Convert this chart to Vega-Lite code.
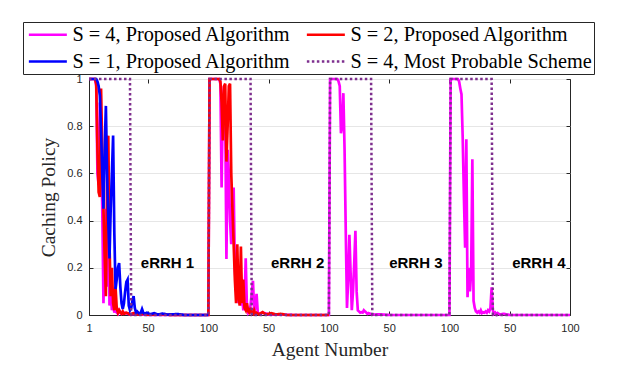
{
  "$schema": "https://vega.github.io/schema/vega-lite/v6.json",
  "width": 481,
  "height": 236,
  "autosize": {"type": "none"},
  "padding": {"left": 89, "top": 79, "right": 54, "bottom": 56},
  "background": "white",
  "datasets": {
    "lines": [
      {"s": "S = 4, Proposed Algorithm", "x": 1, "y": 1},
      {"s": "S = 4, Proposed Algorithm", "x": 6, "y": 1},
      {"s": "S = 4, Proposed Algorithm", "x": 7, "y": 0.97},
      {"s": "S = 4, Proposed Algorithm", "x": 8, "y": 0.6},
      {"s": "S = 4, Proposed Algorithm", "x": 9, "y": 0.55},
      {"s": "S = 4, Proposed Algorithm", "x": 10, "y": 0.9},
      {"s": "S = 4, Proposed Algorithm", "x": 11, "y": 0.75},
      {"s": "S = 4, Proposed Algorithm", "x": 12, "y": 0.45},
      {"s": "S = 4, Proposed Algorithm", "x": 13, "y": 0.05},
      {"s": "S = 4, Proposed Algorithm", "x": 14, "y": 0.3},
      {"s": "S = 4, Proposed Algorithm", "x": 15, "y": 0.45},
      {"s": "S = 4, Proposed Algorithm", "x": 16, "y": 0.12},
      {"s": "S = 4, Proposed Algorithm", "x": 17, "y": 0.6},
      {"s": "S = 4, Proposed Algorithm", "x": 18, "y": 0.04},
      {"s": "S = 4, Proposed Algorithm", "x": 19, "y": 0.1},
      {"s": "S = 4, Proposed Algorithm", "x": 20, "y": 0.02},
      {"s": "S = 4, Proposed Algorithm", "x": 21, "y": 0.05},
      {"s": "S = 4, Proposed Algorithm", "x": 22, "y": 0.01},
      {"s": "S = 4, Proposed Algorithm", "x": 23, "y": 0.03},
      {"s": "S = 4, Proposed Algorithm", "x": 24, "y": 0.01},
      {"s": "S = 4, Proposed Algorithm", "x": 25, "y": 0.005},
      {"s": "S = 4, Proposed Algorithm", "x": 26, "y": 0.02},
      {"s": "S = 4, Proposed Algorithm", "x": 28, "y": 0.005},
      {"s": "S = 4, Proposed Algorithm", "x": 30, "y": 0.01},
      {"s": "S = 4, Proposed Algorithm", "x": 35, "y": 0.003},
      {"s": "S = 4, Proposed Algorithm", "x": 40, "y": 0.005},
      {"s": "S = 4, Proposed Algorithm", "x": 50, "y": 0},
      {"s": "S = 4, Proposed Algorithm", "x": 100, "y": 0},
      {"s": "S = 4, Proposed Algorithm", "x": 101, "y": 1},
      {"s": "S = 4, Proposed Algorithm", "x": 109, "y": 1},
      {"s": "S = 4, Proposed Algorithm", "x": 110, "y": 0.98},
      {"s": "S = 4, Proposed Algorithm", "x": 111, "y": 0.54},
      {"s": "S = 4, Proposed Algorithm", "x": 112, "y": 0.9},
      {"s": "S = 4, Proposed Algorithm", "x": 113, "y": 0.97},
      {"s": "S = 4, Proposed Algorithm", "x": 114, "y": 0.85},
      {"s": "S = 4, Proposed Algorithm", "x": 115, "y": 0.237},
      {"s": "S = 4, Proposed Algorithm", "x": 116, "y": 0.7},
      {"s": "S = 4, Proposed Algorithm", "x": 117, "y": 0.6},
      {"s": "S = 4, Proposed Algorithm", "x": 118, "y": 0.4},
      {"s": "S = 4, Proposed Algorithm", "x": 119, "y": 0.3},
      {"s": "S = 4, Proposed Algorithm", "x": 120, "y": 0.45},
      {"s": "S = 4, Proposed Algorithm", "x": 121, "y": 0.54},
      {"s": "S = 4, Proposed Algorithm", "x": 122, "y": 0.2},
      {"s": "S = 4, Proposed Algorithm", "x": 123, "y": 0.1},
      {"s": "S = 4, Proposed Algorithm", "x": 124, "y": 0.15},
      {"s": "S = 4, Proposed Algorithm", "x": 125, "y": 0.05},
      {"s": "S = 4, Proposed Algorithm", "x": 126, "y": 0.1},
      {"s": "S = 4, Proposed Algorithm", "x": 127, "y": 0.04},
      {"s": "S = 4, Proposed Algorithm", "x": 128, "y": 0.08},
      {"s": "S = 4, Proposed Algorithm", "x": 129, "y": 0.02},
      {"s": "S = 4, Proposed Algorithm", "x": 130, "y": 0.05},
      {"s": "S = 4, Proposed Algorithm", "x": 131, "y": 0.24},
      {"s": "S = 4, Proposed Algorithm", "x": 132, "y": 0.03},
      {"s": "S = 4, Proposed Algorithm", "x": 133, "y": 0.01},
      {"s": "S = 4, Proposed Algorithm", "x": 134, "y": 0.02},
      {"s": "S = 4, Proposed Algorithm", "x": 135, "y": 0.04},
      {"s": "S = 4, Proposed Algorithm", "x": 137, "y": 0.145},
      {"s": "S = 4, Proposed Algorithm", "x": 138, "y": 0.02},
      {"s": "S = 4, Proposed Algorithm", "x": 139, "y": 0.03},
      {"s": "S = 4, Proposed Algorithm", "x": 140, "y": 0.09},
      {"s": "S = 4, Proposed Algorithm", "x": 141, "y": 0.01},
      {"s": "S = 4, Proposed Algorithm", "x": 142, "y": 0.005},
      {"s": "S = 4, Proposed Algorithm", "x": 145, "y": 0.01},
      {"s": "S = 4, Proposed Algorithm", "x": 150, "y": 0.003},
      {"s": "S = 4, Proposed Algorithm", "x": 160, "y": 0.002},
      {"s": "S = 4, Proposed Algorithm", "x": 170, "y": 0},
      {"s": "S = 4, Proposed Algorithm", "x": 200, "y": 0},
      {"s": "S = 4, Proposed Algorithm", "x": 201, "y": 1},
      {"s": "S = 4, Proposed Algorithm", "x": 207, "y": 1},
      {"s": "S = 4, Proposed Algorithm", "x": 208, "y": 0.99},
      {"s": "S = 4, Proposed Algorithm", "x": 209, "y": 0.97},
      {"s": "S = 4, Proposed Algorithm", "x": 210, "y": 0.77},
      {"s": "S = 4, Proposed Algorithm", "x": 211, "y": 0.8},
      {"s": "S = 4, Proposed Algorithm", "x": 212, "y": 0.94},
      {"s": "S = 4, Proposed Algorithm", "x": 213, "y": 0.7},
      {"s": "S = 4, Proposed Algorithm", "x": 214, "y": 0.35},
      {"s": "S = 4, Proposed Algorithm", "x": 215, "y": 0.03},
      {"s": "S = 4, Proposed Algorithm", "x": 216, "y": 0.15},
      {"s": "S = 4, Proposed Algorithm", "x": 217, "y": 0.34},
      {"s": "S = 4, Proposed Algorithm", "x": 218, "y": 0.18},
      {"s": "S = 4, Proposed Algorithm", "x": 219, "y": 0.02},
      {"s": "S = 4, Proposed Algorithm", "x": 220, "y": 0.1},
      {"s": "S = 4, Proposed Algorithm", "x": 221, "y": 0.22},
      {"s": "S = 4, Proposed Algorithm", "x": 222, "y": 0.357},
      {"s": "S = 4, Proposed Algorithm", "x": 223, "y": 0.1},
      {"s": "S = 4, Proposed Algorithm", "x": 224, "y": 0.02},
      {"s": "S = 4, Proposed Algorithm", "x": 225, "y": 0.015},
      {"s": "S = 4, Proposed Algorithm", "x": 226, "y": 0.01},
      {"s": "S = 4, Proposed Algorithm", "x": 227, "y": 0.012},
      {"s": "S = 4, Proposed Algorithm", "x": 228, "y": 0.01},
      {"s": "S = 4, Proposed Algorithm", "x": 229, "y": 0.02},
      {"s": "S = 4, Proposed Algorithm", "x": 230, "y": 0.015},
      {"s": "S = 4, Proposed Algorithm", "x": 231, "y": 0.01},
      {"s": "S = 4, Proposed Algorithm", "x": 232, "y": 0.005},
      {"s": "S = 4, Proposed Algorithm", "x": 233, "y": 0.008},
      {"s": "S = 4, Proposed Algorithm", "x": 235, "y": 0.004},
      {"s": "S = 4, Proposed Algorithm", "x": 238, "y": 0.002},
      {"s": "S = 4, Proposed Algorithm", "x": 242, "y": 0.003},
      {"s": "S = 4, Proposed Algorithm", "x": 250, "y": 0},
      {"s": "S = 4, Proposed Algorithm", "x": 300, "y": 0},
      {"s": "S = 4, Proposed Algorithm", "x": 301, "y": 1},
      {"s": "S = 4, Proposed Algorithm", "x": 307, "y": 1},
      {"s": "S = 4, Proposed Algorithm", "x": 308, "y": 0.99},
      {"s": "S = 4, Proposed Algorithm", "x": 309, "y": 0.96},
      {"s": "S = 4, Proposed Algorithm", "x": 310, "y": 0.935},
      {"s": "S = 4, Proposed Algorithm", "x": 311, "y": 0.75},
      {"s": "S = 4, Proposed Algorithm", "x": 312, "y": 0.5},
      {"s": "S = 4, Proposed Algorithm", "x": 313, "y": 0.285},
      {"s": "S = 4, Proposed Algorithm", "x": 314, "y": 0.745},
      {"s": "S = 4, Proposed Algorithm", "x": 315, "y": 0.075},
      {"s": "S = 4, Proposed Algorithm", "x": 316, "y": 0.2},
      {"s": "S = 4, Proposed Algorithm", "x": 317, "y": 0.1},
      {"s": "S = 4, Proposed Algorithm", "x": 318, "y": 0.18},
      {"s": "S = 4, Proposed Algorithm", "x": 319, "y": 0.66},
      {"s": "S = 4, Proposed Algorithm", "x": 320, "y": 0.06},
      {"s": "S = 4, Proposed Algorithm", "x": 321, "y": 0.03},
      {"s": "S = 4, Proposed Algorithm", "x": 322, "y": 0.015},
      {"s": "S = 4, Proposed Algorithm", "x": 323, "y": 0.01},
      {"s": "S = 4, Proposed Algorithm", "x": 324, "y": 0.015},
      {"s": "S = 4, Proposed Algorithm", "x": 325, "y": 0.01},
      {"s": "S = 4, Proposed Algorithm", "x": 326, "y": 0.02},
      {"s": "S = 4, Proposed Algorithm", "x": 327, "y": 0.008},
      {"s": "S = 4, Proposed Algorithm", "x": 328, "y": 0.012},
      {"s": "S = 4, Proposed Algorithm", "x": 329, "y": 0.01},
      {"s": "S = 4, Proposed Algorithm", "x": 330, "y": 0.015},
      {"s": "S = 4, Proposed Algorithm", "x": 331, "y": 0.01},
      {"s": "S = 4, Proposed Algorithm", "x": 332, "y": 0.02},
      {"s": "S = 4, Proposed Algorithm", "x": 333, "y": 0.015},
      {"s": "S = 4, Proposed Algorithm", "x": 334, "y": 0.03},
      {"s": "S = 4, Proposed Algorithm", "x": 335, "y": 0.117},
      {"s": "S = 4, Proposed Algorithm", "x": 336, "y": 0.02},
      {"s": "S = 4, Proposed Algorithm", "x": 337, "y": 0.005},
      {"s": "S = 4, Proposed Algorithm", "x": 338, "y": 0.01},
      {"s": "S = 4, Proposed Algorithm", "x": 339, "y": 0.002},
      {"s": "S = 4, Proposed Algorithm", "x": 340, "y": 0.008},
      {"s": "S = 4, Proposed Algorithm", "x": 342, "y": 0.002},
      {"s": "S = 4, Proposed Algorithm", "x": 345, "y": 0.005},
      {"s": "S = 4, Proposed Algorithm", "x": 350, "y": 0},
      {"s": "S = 4, Proposed Algorithm", "x": 400, "y": 0},

      {"s": "S = 2, Proposed Algorithm", "x": 1, "y": 1},
      {"s": "S = 2, Proposed Algorithm", "x": 6, "y": 1},
      {"s": "S = 2, Proposed Algorithm", "x": 7, "y": 0.98},
      {"s": "S = 2, Proposed Algorithm", "x": 8, "y": 0.7},
      {"s": "S = 2, Proposed Algorithm", "x": 9, "y": 0.52},
      {"s": "S = 2, Proposed Algorithm", "x": 10, "y": 0.5},
      {"s": "S = 2, Proposed Algorithm", "x": 11, "y": 0.96},
      {"s": "S = 2, Proposed Algorithm", "x": 12, "y": 0.7},
      {"s": "S = 2, Proposed Algorithm", "x": 13, "y": 0.45},
      {"s": "S = 2, Proposed Algorithm", "x": 14, "y": 0.25},
      {"s": "S = 2, Proposed Algorithm", "x": 15, "y": 0.08},
      {"s": "S = 2, Proposed Algorithm", "x": 16, "y": 0.55},
      {"s": "S = 2, Proposed Algorithm", "x": 17, "y": 0.76},
      {"s": "S = 2, Proposed Algorithm", "x": 18, "y": 0.3},
      {"s": "S = 2, Proposed Algorithm", "x": 19, "y": 0.08},
      {"s": "S = 2, Proposed Algorithm", "x": 20, "y": 0.2},
      {"s": "S = 2, Proposed Algorithm", "x": 21, "y": 0.05},
      {"s": "S = 2, Proposed Algorithm", "x": 22, "y": 0.02},
      {"s": "S = 2, Proposed Algorithm", "x": 23, "y": 0.12},
      {"s": "S = 2, Proposed Algorithm", "x": 24, "y": 0.03},
      {"s": "S = 2, Proposed Algorithm", "x": 25, "y": 0.01},
      {"s": "S = 2, Proposed Algorithm", "x": 26, "y": 0.02},
      {"s": "S = 2, Proposed Algorithm", "x": 27, "y": 0.01},
      {"s": "S = 2, Proposed Algorithm", "x": 28, "y": 0.005},
      {"s": "S = 2, Proposed Algorithm", "x": 29, "y": 0.015},
      {"s": "S = 2, Proposed Algorithm", "x": 30, "y": 0.005},
      {"s": "S = 2, Proposed Algorithm", "x": 32, "y": 0.01},
      {"s": "S = 2, Proposed Algorithm", "x": 35, "y": 0.003},
      {"s": "S = 2, Proposed Algorithm", "x": 38, "y": 0.008},
      {"s": "S = 2, Proposed Algorithm", "x": 42, "y": 0.002},
      {"s": "S = 2, Proposed Algorithm", "x": 46, "y": 0.005},
      {"s": "S = 2, Proposed Algorithm", "x": 50, "y": 0.001},
      {"s": "S = 2, Proposed Algorithm", "x": 60, "y": 0.003},
      {"s": "S = 2, Proposed Algorithm", "x": 70, "y": 0},
      {"s": "S = 2, Proposed Algorithm", "x": 100, "y": 0},
      {"s": "S = 2, Proposed Algorithm", "x": 101, "y": 1},
      {"s": "S = 2, Proposed Algorithm", "x": 109, "y": 1},
      {"s": "S = 2, Proposed Algorithm", "x": 110, "y": 0.99},
      {"s": "S = 2, Proposed Algorithm", "x": 111, "y": 0.9},
      {"s": "S = 2, Proposed Algorithm", "x": 112, "y": 0.74},
      {"s": "S = 2, Proposed Algorithm", "x": 113, "y": 0.97},
      {"s": "S = 2, Proposed Algorithm", "x": 114, "y": 0.98},
      {"s": "S = 2, Proposed Algorithm", "x": 115, "y": 0.65},
      {"s": "S = 2, Proposed Algorithm", "x": 116, "y": 0.8},
      {"s": "S = 2, Proposed Algorithm", "x": 117, "y": 0.97},
      {"s": "S = 2, Proposed Algorithm", "x": 118, "y": 0.98},
      {"s": "S = 2, Proposed Algorithm", "x": 119, "y": 0.6},
      {"s": "S = 2, Proposed Algorithm", "x": 120, "y": 0.45},
      {"s": "S = 2, Proposed Algorithm", "x": 121, "y": 0.3},
      {"s": "S = 2, Proposed Algorithm", "x": 122, "y": 0.15},
      {"s": "S = 2, Proposed Algorithm", "x": 123, "y": 0.05},
      {"s": "S = 2, Proposed Algorithm", "x": 124, "y": 0.3},
      {"s": "S = 2, Proposed Algorithm", "x": 125, "y": 0.08},
      {"s": "S = 2, Proposed Algorithm", "x": 126, "y": 0.04},
      {"s": "S = 2, Proposed Algorithm", "x": 127, "y": 0.29},
      {"s": "S = 2, Proposed Algorithm", "x": 128, "y": 0.05},
      {"s": "S = 2, Proposed Algorithm", "x": 129, "y": 0.15},
      {"s": "S = 2, Proposed Algorithm", "x": 130, "y": 0.03},
      {"s": "S = 2, Proposed Algorithm", "x": 131, "y": 0.02},
      {"s": "S = 2, Proposed Algorithm", "x": 132, "y": 0.05},
      {"s": "S = 2, Proposed Algorithm", "x": 133, "y": 0.015},
      {"s": "S = 2, Proposed Algorithm", "x": 134, "y": 0.01},
      {"s": "S = 2, Proposed Algorithm", "x": 135, "y": 0.03},
      {"s": "S = 2, Proposed Algorithm", "x": 136, "y": 0.01},
      {"s": "S = 2, Proposed Algorithm", "x": 137, "y": 0.005},
      {"s": "S = 2, Proposed Algorithm", "x": 138, "y": 0.02},
      {"s": "S = 2, Proposed Algorithm", "x": 139, "y": 0.005},
      {"s": "S = 2, Proposed Algorithm", "x": 140, "y": 0.01},
      {"s": "S = 2, Proposed Algorithm", "x": 142, "y": 0.003},
      {"s": "S = 2, Proposed Algorithm", "x": 145, "y": 0.012},
      {"s": "S = 2, Proposed Algorithm", "x": 148, "y": 0.002},
      {"s": "S = 2, Proposed Algorithm", "x": 152, "y": 0.008},
      {"s": "S = 2, Proposed Algorithm", "x": 156, "y": 0.002},
      {"s": "S = 2, Proposed Algorithm", "x": 160, "y": 0.005},
      {"s": "S = 2, Proposed Algorithm", "x": 165, "y": 0},
      {"s": "S = 2, Proposed Algorithm", "x": 200, "y": 0},

      {"s": "S = 1, Proposed Algorithm", "x": 1, "y": 1},
      {"s": "S = 1, Proposed Algorithm", "x": 7, "y": 1},
      {"s": "S = 1, Proposed Algorithm", "x": 8, "y": 0.99},
      {"s": "S = 1, Proposed Algorithm", "x": 9, "y": 0.97},
      {"s": "S = 1, Proposed Algorithm", "x": 10, "y": 0.93},
      {"s": "S = 1, Proposed Algorithm", "x": 11, "y": 0.78},
      {"s": "S = 1, Proposed Algorithm", "x": 12, "y": 0.6},
      {"s": "S = 1, Proposed Algorithm", "x": 13, "y": 0.45},
      {"s": "S = 1, Proposed Algorithm", "x": 14, "y": 0.7},
      {"s": "S = 1, Proposed Algorithm", "x": 15, "y": 0.886},
      {"s": "S = 1, Proposed Algorithm", "x": 16, "y": 0.6},
      {"s": "S = 1, Proposed Algorithm", "x": 17, "y": 0.4},
      {"s": "S = 1, Proposed Algorithm", "x": 18, "y": 0.24},
      {"s": "S = 1, Proposed Algorithm", "x": 19, "y": 0.45},
      {"s": "S = 1, Proposed Algorithm", "x": 20, "y": 0.6},
      {"s": "S = 1, Proposed Algorithm", "x": 21, "y": 0.76},
      {"s": "S = 1, Proposed Algorithm", "x": 22, "y": 0.35},
      {"s": "S = 1, Proposed Algorithm", "x": 23, "y": 0.11},
      {"s": "S = 1, Proposed Algorithm", "x": 24, "y": 0.15},
      {"s": "S = 1, Proposed Algorithm", "x": 25, "y": 0.2},
      {"s": "S = 1, Proposed Algorithm", "x": 26, "y": 0.22},
      {"s": "S = 1, Proposed Algorithm", "x": 27, "y": 0.12},
      {"s": "S = 1, Proposed Algorithm", "x": 28, "y": 0.05},
      {"s": "S = 1, Proposed Algorithm", "x": 29, "y": 0.025},
      {"s": "S = 1, Proposed Algorithm", "x": 30, "y": 0.05},
      {"s": "S = 1, Proposed Algorithm", "x": 31, "y": 0.1},
      {"s": "S = 1, Proposed Algorithm", "x": 32, "y": 0.14},
      {"s": "S = 1, Proposed Algorithm", "x": 33, "y": 0.15},
      {"s": "S = 1, Proposed Algorithm", "x": 34, "y": 0.04},
      {"s": "S = 1, Proposed Algorithm", "x": 35, "y": 0.02},
      {"s": "S = 1, Proposed Algorithm", "x": 36, "y": 0.03},
      {"s": "S = 1, Proposed Algorithm", "x": 37, "y": 0.06},
      {"s": "S = 1, Proposed Algorithm", "x": 38, "y": 0.08},
      {"s": "S = 1, Proposed Algorithm", "x": 39, "y": 0.03},
      {"s": "S = 1, Proposed Algorithm", "x": 40, "y": 0.01},
      {"s": "S = 1, Proposed Algorithm", "x": 41, "y": 0.015},
      {"s": "S = 1, Proposed Algorithm", "x": 42, "y": 0.01},
      {"s": "S = 1, Proposed Algorithm", "x": 43, "y": 0.005},
      {"s": "S = 1, Proposed Algorithm", "x": 44, "y": 0.01},
      {"s": "S = 1, Proposed Algorithm", "x": 45, "y": 0.025},
      {"s": "S = 1, Proposed Algorithm", "x": 46, "y": 0.01},
      {"s": "S = 1, Proposed Algorithm", "x": 47, "y": 0.005},
      {"s": "S = 1, Proposed Algorithm", "x": 49, "y": 0.01},
      {"s": "S = 1, Proposed Algorithm", "x": 52, "y": 0.003},
      {"s": "S = 1, Proposed Algorithm", "x": 55, "y": 0.008},
      {"s": "S = 1, Proposed Algorithm", "x": 58, "y": 0.002},
      {"s": "S = 1, Proposed Algorithm", "x": 62, "y": 0.006},
      {"s": "S = 1, Proposed Algorithm", "x": 66, "y": 0.002},
      {"s": "S = 1, Proposed Algorithm", "x": 75, "y": 0.004},
      {"s": "S = 1, Proposed Algorithm", "x": 80, "y": 0},
      {"s": "S = 1, Proposed Algorithm", "x": 100, "y": 0},

      {"s": "S = 4, Most Probable Scheme", "x": 1, "y": 1},
      {"s": "S = 4, Most Probable Scheme", "x": 35, "y": 1},
      {"s": "S = 4, Most Probable Scheme", "x": 36, "y": 0},
      {"s": "S = 4, Most Probable Scheme", "x": 100, "y": 0},
      {"s": "S = 4, Most Probable Scheme", "x": 101, "y": 1},
      {"s": "S = 4, Most Probable Scheme", "x": 135, "y": 1},
      {"s": "S = 4, Most Probable Scheme", "x": 136, "y": 0},
      {"s": "S = 4, Most Probable Scheme", "x": 200, "y": 0},
      {"s": "S = 4, Most Probable Scheme", "x": 201, "y": 1},
      {"s": "S = 4, Most Probable Scheme", "x": 235, "y": 1},
      {"s": "S = 4, Most Probable Scheme", "x": 236, "y": 0},
      {"s": "S = 4, Most Probable Scheme", "x": 300, "y": 0},
      {"s": "S = 4, Most Probable Scheme", "x": 301, "y": 1},
      {"s": "S = 4, Most Probable Scheme", "x": 335, "y": 1},
      {"s": "S = 4, Most Probable Scheme", "x": 336, "y": 0},
      {"s": "S = 4, Most Probable Scheme", "x": 400, "y": 0}
    ],
    "labels": [
      {"x": 44, "y": 0.22, "t": "eRRH 1"},
      {"x": 152, "y": 0.22, "t": "eRRH 2"},
      {"x": 250, "y": 0.22, "t": "eRRH 3"},
      {"x": 352, "y": 0.22, "t": "eRRH 4"}
    ]
  },
  "layer": [
    {
      "data": {"name": "lines"},
      "transform": [{"filter": "datum.s == 'S = 4, Proposed Algorithm'"}],
      "mark": {"type": "line", "strokeWidth": 2.7, "clip": false},
      "encoding": {
        "x": {"field": "x", "type": "quantitative",
          "scale": {"domain": [1, 400], "nice": false, "zero": false},
          "axis": {"title": "Agent Number", "values": [1, 50, 100, 150, 200, 250, 300, 350, 400],
            "labelExpr": "datum.value == 1 ? '1' : (datum.value % 100 == 0 ? '100' : '50')",
            "grid": false, "titleX": 240.5, "titleY": 34, "titleBaseline": "middle", "titleAlign": "center"}},
        "y": {"field": "y", "type": "quantitative",
          "scale": {"domain": [0, 1], "nice": false},
          "axis": {"title": "Caching Policy", "values": [0, 0.2, 0.4, 0.6, 0.8, 1], "format": "~g",
            "grid": true, "titleX": -41, "titleY": 118, "titleBaseline": "middle", "titleAlign": "center", "titleAngle": -90}},
        "color": {"field": "s", "type": "nominal",
          "scale": {"domain": ["S = 4, Proposed Algorithm", "S = 1, Proposed Algorithm", "S = 2, Proposed Algorithm", "S = 4, Most Probable Scheme"],
            "range": ["#FF00FF", "#0000FF", "#FF0000", "#7E2F8E"]}},
        "strokeDash": {"field": "s", "type": "nominal",
          "scale": {"domain": ["S = 4, Proposed Algorithm", "S = 1, Proposed Algorithm", "S = 2, Proposed Algorithm", "S = 4, Most Probable Scheme"],
            "range": [[1, 0], [1, 0], [1, 0], [2.5, 2.5]]}}
      }
    },
    {
      "data": {"name": "lines"},
      "transform": [{"filter": "datum.s == 'S = 2, Proposed Algorithm'"}],
      "mark": {"type": "line", "strokeWidth": 2.7, "clip": false},
      "encoding": {
        "x": {"field": "x", "type": "quantitative", "axis": null},
        "y": {"field": "y", "type": "quantitative", "axis": null},
        "color": {"field": "s", "type": "nominal"},
        "strokeDash": {"field": "s", "type": "nominal"}
      }
    },
    {
      "data": {"name": "lines"},
      "transform": [{"filter": "datum.s == 'S = 1, Proposed Algorithm'"}],
      "mark": {"type": "line", "strokeWidth": 2.7, "clip": false},
      "encoding": {
        "x": {"field": "x", "type": "quantitative", "axis": null},
        "y": {"field": "y", "type": "quantitative", "axis": null},
        "color": {"field": "s", "type": "nominal"},
        "strokeDash": {"field": "s", "type": "nominal"}
      }
    },
    {
      "data": {"name": "lines"},
      "transform": [{"filter": "datum.s == 'S = 4, Most Probable Scheme'"}],
      "mark": {"type": "line", "strokeWidth": 2.5, "clip": false},
      "encoding": {
        "x": {"field": "x", "type": "quantitative", "axis": null},
        "y": {"field": "y", "type": "quantitative", "axis": null},
        "color": {"field": "s", "type": "nominal"},
        "strokeDash": {"field": "s", "type": "nominal"}
      }
    },
    {
      "data": {"name": "labels"},
      "mark": {"type": "text", "align": "left", "baseline": "middle", "font": "Liberation Sans", "fontWeight": "bold", "fontSize": 15, "color": "#000000"},
      "encoding": {
        "x": {"field": "x", "type": "quantitative",
          "axis": {"orient": "top", "title": null, "labels": false, "domain": false, "grid": false,
            "values": [1, 50, 100, 150, 200, 250, 300, 350, 400], "tickSize": -4}},
        "y": {"field": "y", "type": "quantitative",
          "axis": {"orient": "right", "title": null, "labels": false, "domain": false, "grid": false,
            "values": [0, 0.2, 0.4, 0.6, 0.8, 1], "tickSize": -4}},
        "text": {"field": "t", "type": "nominal"}
      }
    }
  ],
  "resolve": {"axis": {"x": "independent", "y": "independent"}},
  "config": {
    "view": {"stroke": "#262626", "strokeWidth": 1},
    "axis": {
      "labelFont": "Liberation Sans", "labelFontSize": 11, "labelColor": "#262626", "labelFlush": false,
      "titleFont": "Liberation Serif", "titleFontSize": 19.5, "titleFontWeight": "normal", "titleColor": "#262626",
      "domainColor": "#262626", "tickColor": "#262626", "tickSize": -4, "labelPadding": 11,
      "gridColor": "#e6e6e6", "gridWidth": 1
    },
    "legend": {
      "orient": "none", "legendX": -66, "legendY": -57, "direction": "vertical",
      "columns": 2, "title": null, "symbolType": "M-0.7,0H3.3", "symbolSize": 361, "symbolStrokeWidth": 2.5,
      "labelFont": "Liberation Serif", "labelFontSize": 20.3, "labelColor": "#000000", "labelLimit": 0,
      "labelOffset": 26, "columnPadding": 10, "rowPadding": 5, "padding": 1.5,
      "strokeColor": "#262626", "fillColor": "white"
    }
  }
}
